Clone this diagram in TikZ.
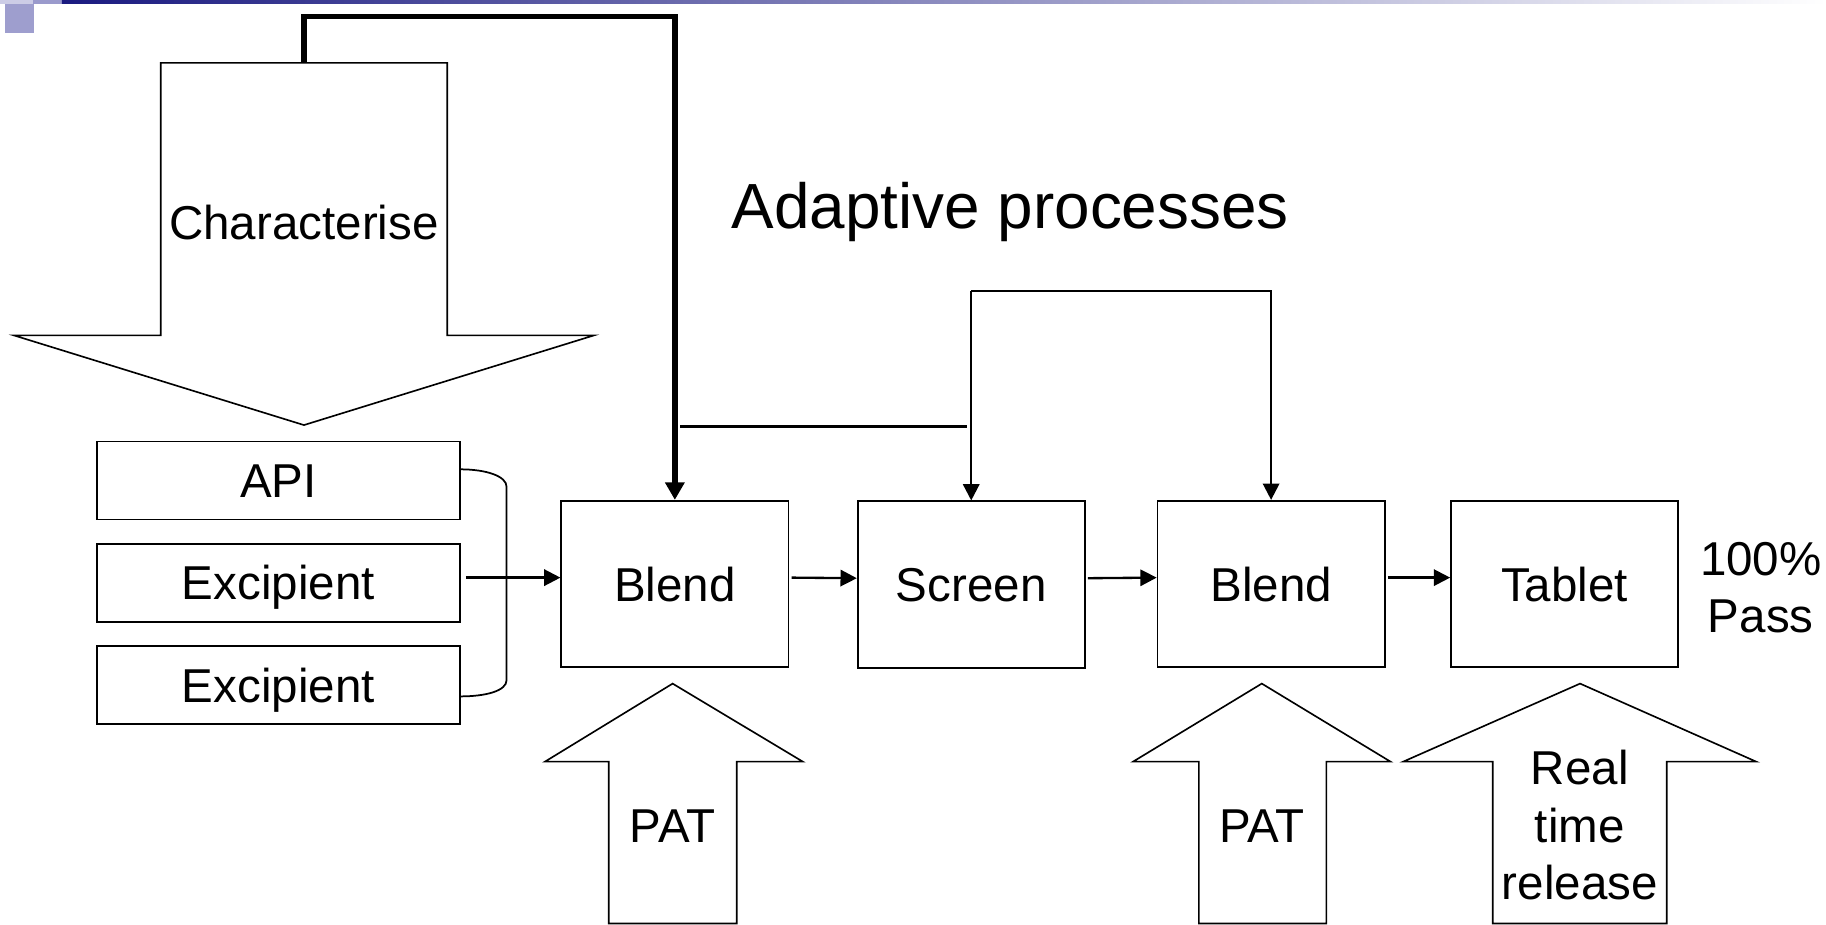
\documentclass[tikz,border=0pt]{standalone}
\usepackage{fontspec}
\setmainfont{Liberation Sans}
\usetikzlibrary{arrows.meta}

\definecolor{barnavy}{RGB}{26,26,128}
\definecolor{barlight}{RGB}{204,204,230}
\definecolor{barmid}{RGB}{154,154,204}
\definecolor{cornersq}{RGB}{158,158,206}

\begin{document}
\begin{tikzpicture}[x=0.5pt, y=-0.5pt,
  every node/.style={font=\fontsize{20.4}{24.7}\selectfont},
  box/.style={draw, line width=0.75pt, text height=14.6pt, text depth=0pt},
  ingr/.style={box, minimum width=156pt, minimum height=33.5pt},
  stage/.style={box, minimum width=97.5pt, minimum height=71.5pt},
  flow/.style={line width=1pt, -{Triangle[length=7pt, width=7pt]}},
  mainflow/.style={line width=2.3pt, -{Triangle[length=7.5pt, width=8pt]}},
  blockarrow/.style={draw, line width=0.7pt, line join=miter}]
\useasboundingbox (0,0) rectangle (1568,794);

% Полоса сверху и квадратик
\fill[barlight] (0,0) rectangle (28.3,3.4);
\fill[barmid] (28.3,0) rectangle (53.2,3.4);
\shade[left color=barnavy, right color=white] (53.2,0) rectangle (1568,3.4);
\fill[cornersq] (4.3,3.4) rectangle (29.2,28.3);

% Большая стрелка вниз
\draw[blockarrow] (12,288) -- (138,288) -- (138,54) -- (384,54) -- (384,288)
  -- (510,288) -- (261,365) -- cycle;
\node (char) at (261,191) {Characterise};
\coordinate (chartop) at (261,54);

% Заголовок
\node[anchor=base west, inner sep=0pt, font=\fontsize{27.4}{33}\selectfont] (title) at (628,196) {Adaptive processes};

% Исходные вещества
\node[ingr] (api) at (239,412.5) {API};
\node[ingr] (excA) at (239,500.5) {Excipient};
\node[ingr] (excB) at (239,588.5) {Excipient};

% Стадии процесса
\node[stage] (blendA) at (579.5,501.5) {Blend};
\node[stage] (screen) at (834,502) {Screen};
\node[stage] (blendB) at (1091.5,501.5) {Blend};
\node[stage] (tablet) at (1343.5,501.5) {Tablet};
\node[align=center] (pass) at (1512,504.5) {100\%\\Pass};

% Скобка и вход в первый Blend
\draw[line width=0.75pt] (395,403) .. controls (418,403) and (435,409) .. (435,418)
  -- (435,584) .. controls (435,593) and (418,598) .. (395,598);
\coordinate (mix) at (400,496);
\draw[flow] (mix) -- (mix -| blendA.west);

% Стрелки между стадиями
\draw[flow] ([yshift=2.75pt,xshift=1pt]blendA.east) -- ([yshift=2.75pt]screen.west);
\draw[flow] ([yshift=2.75pt,xshift=1pt]screen.east) -- ([yshift=2.75pt]blendB.west);
\draw[flow] ([yshift=2.75pt,xshift=1pt]blendB.east) -- ([yshift=2.75pt]tablet.west);

% Обратные связи
\draw[mainflow] (chartop) |- (579.5,14) -- (blendA.north);
\coordinate (fbA) at (584,366);
\coordinate (fbB) at (830,366);
\draw[line width=1.3pt] (fbA) -- (fbB);
\coordinate (fbtop) at (834,250);
\draw[flow] (fbtop) -- (screen.north);
\draw[flow] (fbtop) -| (blendB.north);

% Стрелки вверх
\draw[blockarrow] (522.7,793) -- (522.7,654) -- (468,654) -- (577.6,587) -- (689.3,654)
  -- (632.6,654) -- (632.6,793) -- cycle;
\node (patA) at (577.6,709) {PAT};
\draw[blockarrow] (1029.5,793) -- (1029.5,654) -- (973,654) -- (1083.5,587) -- (1194,654)
  -- (1139,654) -- (1139,793) -- cycle;
\node (patB) at (1083.5,709) {PAT};
\draw[blockarrow] (1281.8,793) -- (1281.8,654) -- (1205,654) -- (1356.8,587) -- (1508,654)
  -- (1431.2,654) -- (1431.2,793) -- cycle;
\node[align=center] (rtr) at (1356.5,708.5) {Real\\time\\release};

\end{tikzpicture}
\end{document}
